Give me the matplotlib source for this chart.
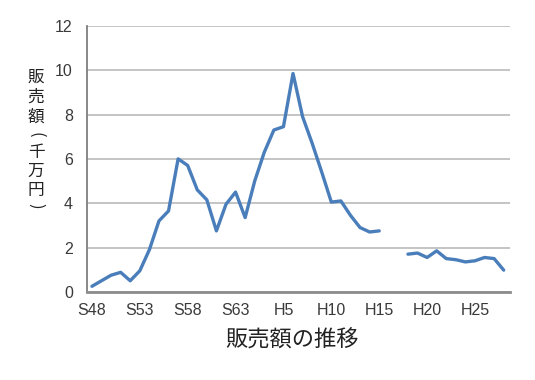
import numpy as np
import matplotlib.pyplot as plt

plt.rcParams['font.family'] = ['Liberation Sans', 'Noto Sans CJK JP', 'DejaVu Sans']

# 年度（昭和48年〜平成28年）
years = ['S%d' % y for y in range(48, 64)] + ['H%d' % y for y in range(1, 29)]

# 販売額（千万円）、H16・H17 は欠測
sales = [0.25, 0.5, 0.75, 0.88, 0.5, 0.95, 1.9, 3.2, 3.65, 6.0,
         5.7, 4.6, 4.15, 2.75, 3.95, 4.5, 3.35, 5.0, 6.3, 7.3,
         7.45, 9.85, 7.9, 6.7, 5.4, 4.05, 4.1, 3.45, 2.9, 2.7,
         2.75, np.nan, np.nan, 1.7, 1.75, 1.55, 1.85, 1.5, 1.45, 1.35,
         1.4, 1.55, 1.5, 0.98]

yticks = [0, 2, 4, 6, 8, 10, 12]

W, H = 535, 380
fig = plt.figure(figsize=(W / 100, H / 100), dpi=100)
ax = fig.add_axes([0.162, 0.232, 0.792, 0.700])

x = np.arange(len(years))
ax.plot(x, sales, color='#4a7ebb', linewidth=2.4, solid_joinstyle='round',
        solid_capstyle='round')

ax.set_xlim(-0.55, len(years) - 0.3)
ax.set_ylim(0, 12)
ax.set_yticks(yticks)
ax.set_xticks(x[::5])
ax.set_xticklabels(years[::5])

ax.grid(axis='y', color='#bfbfbf', linewidth=1.3)
ax.set_axisbelow(True)
for side in ['top', 'right']:
    ax.spines[side].set_visible(False)
ax.spines['left'].set_color('#7f7f7f')
ax.spines['left'].set_linewidth(1.3)
ax.spines['bottom'].set_color('#8c8c8c')
ax.spines['bottom'].set_linewidth(2.0)

ax.tick_params(axis='both', length=0, labelsize=11.5, colors='#3a3a3a')
ax.tick_params(axis='y', pad=10)
ax.tick_params(axis='x', pad=8)

# 縦書きの軸ラベル：一文字ずつ配置し、括弧は回転させる
label_chars = [('販', 0, 77), ('売', 0, 97), ('額', 0, 117), ('(', -90, 135),
               ('千', 0, 152), ('万', 0, 171), ('円', 0, 190), (')', -90, 206)]
for ch, rot, py in label_chars:
    fig.text(36 / W, 1 - py / H, ch, family='Noto Sans CJK JP', fontsize=12,
             rotation=rot, rotation_mode='anchor' if rot else 'default',
             ha='center', va='center', color='#222222')

fig.text(0.546, 0.105, '販売額の推移', family='Noto Sans CJK JP',
         fontsize=16, ha='center', va='center', color='#222222')

fig.savefig('out.png', dpi=100)
